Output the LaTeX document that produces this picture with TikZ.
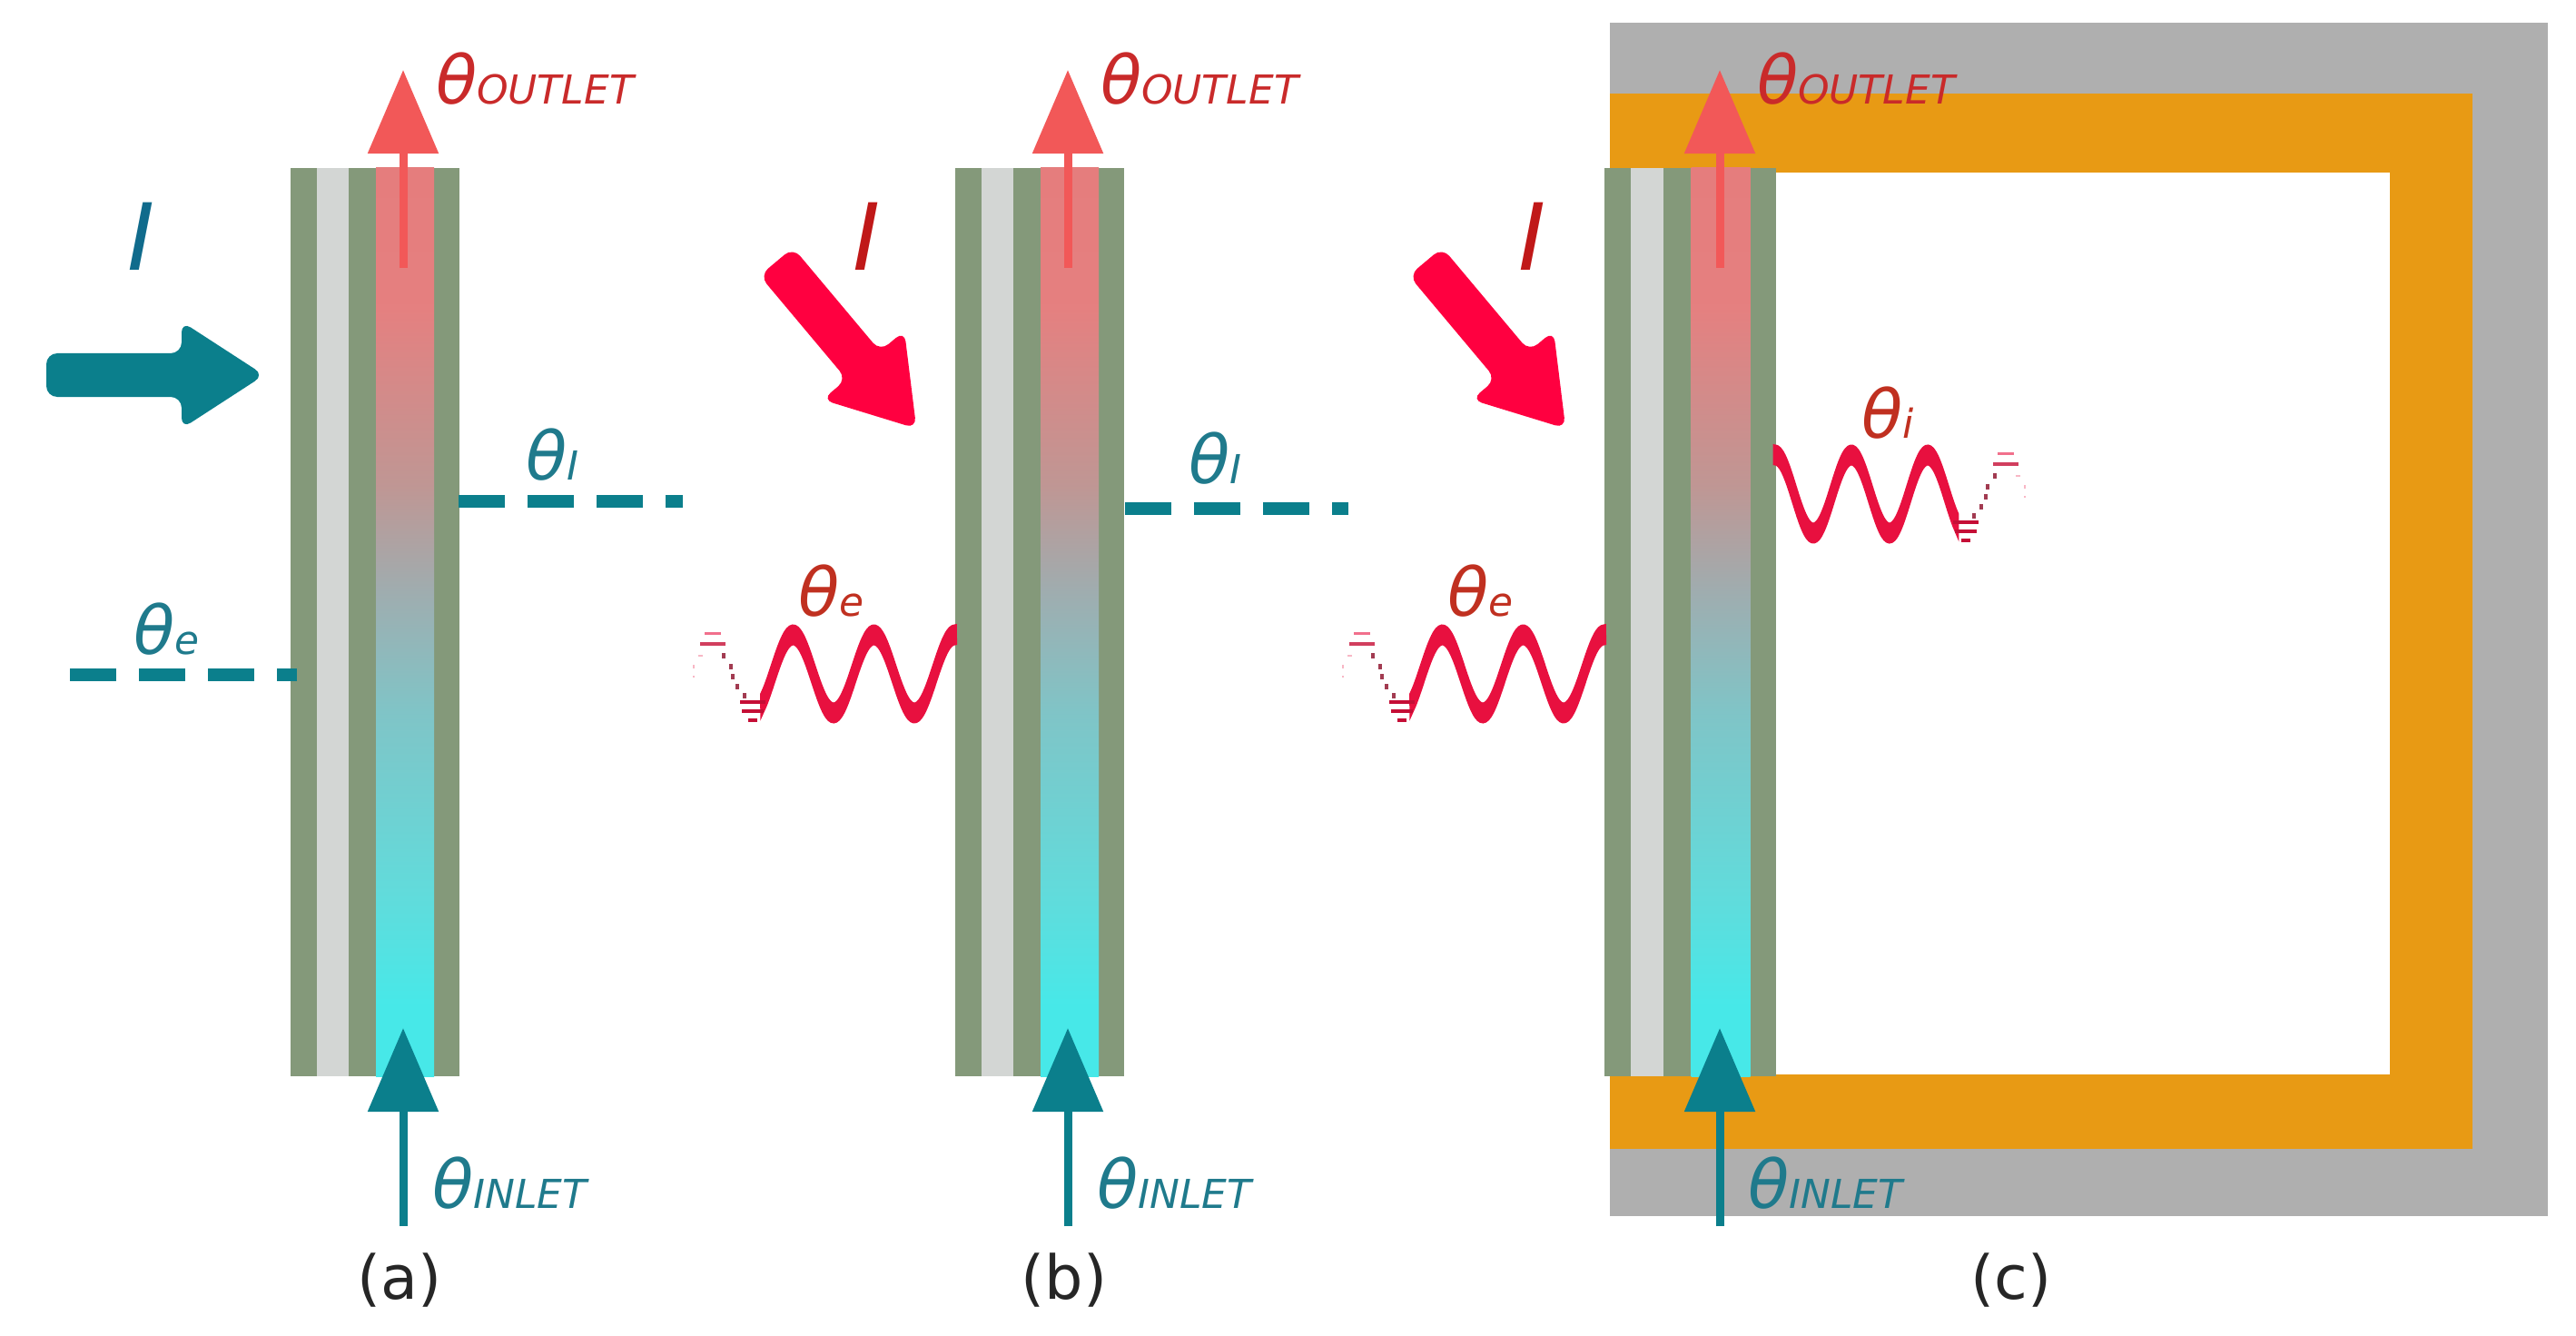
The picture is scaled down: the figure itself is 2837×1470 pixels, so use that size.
\documentclass[tikz,border=0pt]{standalone}
\usepackage{fontspec}
\setmainfont{DejaVu Sans}
\usetikzlibrary{arrows.meta}

\definecolor{verde}{HTML}{84997A}
\definecolor{vidro}{HTML}{D3D6D4}
\definecolor{laranja}{HTML}{E89A14}
\definecolor{cinza}{HTML}{AFAFAF}
\definecolor{azul}{HTML}{0B7F8C}
\definecolor{azultexto}{HTML}{1F7A8C}
\definecolor{azuli}{HTML}{106B8C}
\definecolor{vermelho}{HTML}{F25858}
\definecolor{vermelhotexto}{HTML}{C92A2A}
\definecolor{tijolo}{HTML}{C03020}
\definecolor{escuro}{HTML}{C01818}
\definecolor{carmim}{HTML}{E8103F}
\definecolor{rosa}{HTML}{FF0040}

\pgfdeclareverticalshading{fluido}{100bp}{
    rgb(0bp)=(0.28,0.91,0.91);
    rgb(29bp)=(0.28,0.91,0.91);
    rgb(35bp)=(0.38,0.86,0.86);
    rgb(45bp)=(0.50,0.77,0.78);
    rgb(51.5bp)=(0.62,0.68,0.69);
    rgb(57.5bp)=(0.75,0.59,0.58);
    rgb(67.5bp)=(0.90,0.50,0.50);
    rgb(75bp)=(0.90,0.49,0.49);
    rgb(100bp)=(0.90,0.49,0.49)
}

\newcommand{\rotulo}[1]{{\fontsize{21}{21}\selectfont\itshape θ}{\fontsize{12.5}{12.5}\selectfont\itshape #1}}

\begin{document}
\begin{tikzpicture}[
    x=0.01cm,
    y=-0.01cm,
    every node/.style={inner sep=0pt, outer sep=0pt},
    seta/.style={-{Triangle[length=0.92cm,width=0.76cm]}, line width=0.09cm},
    tracejado/.style={line width=0.14cm, azul, dash pattern=on 0.51cm off 0.25cm},
    texto/.style={anchor=base west},
    legenda/.style={anchor=base, font=\fontsize{19}{19}\selectfont, text=black!85},
    maiusculo/.style={anchor=base, font=\fontsize{29}{29}\selectfont\itshape},
    pics/envidracado/.style={
        code={
            \fill[verde] (0,0) rectangle (186,1000);
            \fill[vidro] (29,0) rectangle (64,1000);
            \shade[shading=fluido] (94,0) rectangle (158,1000);
        }
    },
    pics/bloco/.style={
        code={
            \fill[#1, rounded corners=0.12cm] (0,-24) -- (149,-24) -- (149,-59)
                -- (240,0) -- (149,59) -- (149,24) -- (0,24) -- cycle;
        }
    },
    pics/onda/.style={
        code={
            % corpo da onda
            \fill[carmim, draw=carmim, line width=0.05cm]
                plot[domain=0.12:2.5, samples=90, smooth] ({\x*#1}, {43*cos(360*\x)-9})
                -- plot[domain=2.5:0.12, samples=90, smooth] ({\x*#1}, {43*cos(360*\x)+9}) -- cycle;
            % parte que se apaga
            \foreach \yy/\xa/\xb in {51/-5/5, 41/-12/12, 31/-14/14} {
                \fill[carmim!85!black] (\xa,\yy-2) rectangle (\xb,\yy+2);
            }
            \foreach \xx/\yy in {-9/24, -17/14, -22/3, -24/-8, -32/-20} {
                \fill[carmim!60!black!80] (\xx-2,\yy-3) rectangle (\xx+2,\yy+3);
            }
            \fill[carmim!60!white] (-53,-46) rectangle (-35,-43);
            \fill[carmim!85!black!80] (-58,-35) rectangle (-30,-31);
            \fill[carmim!30!white] (-60,-21) rectangle (-55,-19);
            \fill[carmim!30!white] (-66,-10) rectangle (-64,-6);
            \fill[carmim!30!white] (-66,2) rectangle (-64,4);
        }
    }
]
\useasboundingbox (0,0) rectangle (2837,1470);

% A parede do painel (c)
\fill[cinza] (1773,25) rectangle (2806,1339);
\fill[laranja] (1773,103) rectangle (2723,1265);
\fill[white] (1955,190) rectangle (2632,1183);

% Envidracados
\pic at (320,185) {envidracado};
\pic at (1052,185) {envidracado};
\pic[xscale=1.016] at (1767,185) {envidracado};

% Radiacao
\pic at (51,413) {bloco=azul};
\pic[rotate=-50] at (855,288) {bloco=rosa};
\pic[rotate=-50] at (1570,288) {bloco=rosa};
\node[maiusculo, text=azuli] (Ia) at (156,298) {I};
\node[maiusculo, text=escuro] (Ib) at (955,298) {I};
\node[maiusculo, text=escuro] (Ic) at (1688,298) {I};

% Temperaturas
\coordinate (ea) at (77,743);
\coordinate (eb) at (327,743);
\coordinate (ia) at (505,552);
\coordinate (ib) at (752,552);
\coordinate (ja) at (1239,560);
\coordinate (jb) at (1485,560);
\draw[tracejado] (ea) -- (eb);
\draw[tracejado] (ia) -- (ib);
\draw[tracejado] (ja) -- (jb);

\node[texto, text=azultexto] (tea) at (147,720) {\rotulo{e}};
\node[texto, text=azultexto] (tia) at (579,528) {\rotulo{I}};
\node[texto, text=azultexto] (tib) at (1309,532) {\rotulo{I}};
\node[texto, text=tijolo] (teb) at (879,678) {\rotulo{e}};
\node[texto, text=tijolo] (tec) at (1594,678) {\rotulo{e}};
\node[texto, text=tijolo] (tic) at (2050,482) {\rotulo{i}};

% Ondas
\pic at (829,742) {onda=89};
\pic at (1544,742) {onda=89};
\pic[xscale=-1] at (2165,544) {onda=84};

% Entrada e saida do fluido
\foreach \nome/\xx in {a/444, b/1176, c/1894} {
    \coordinate (s\nome) at (\xx,295);
    \coordinate (t\nome) at (\xx,77);
    \coordinate (u\nome) at (\xx,1350);
    \coordinate (v\nome) at (\xx,1132);
    \draw[seta, vermelho] (s\nome) -- (t\nome);
    \draw[seta, azul] (u\nome) -- (v\nome);
}
\node[texto, text=vermelhotexto] (oa) at (480,115) {\rotulo{OUTLET}};
\node[texto, text=vermelhotexto] (ob) at (1212,115) {\rotulo{OUTLET}};
\node[texto, text=vermelhotexto] (oc) at (1935,115) {\rotulo{OUTLET}};
\node[texto, text=azultexto] (na) at (476,1330) {\rotulo{INLET}};
\node[texto, text=azultexto] (nb) at (1208,1330) {\rotulo{INLET}};
\node[texto, text=azultexto] (nc) at (1925,1330) {\rotulo{INLET}};

% Legendas
\node[legenda] (a) at (440,1430) {(a)};
\node[legenda] (b) at (1172,1430) {(b)};
\node[legenda] (c) at (2215,1430) {(c)};

\end{tikzpicture}
\end{document}
